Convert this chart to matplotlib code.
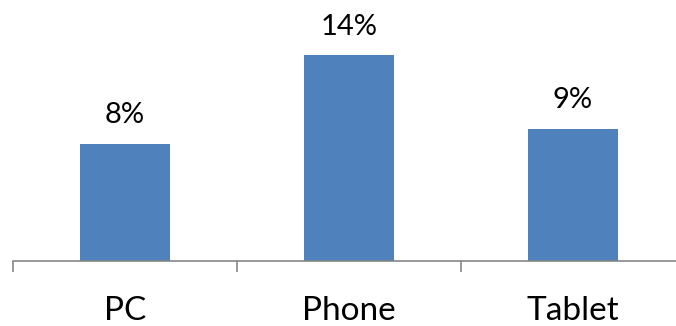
import matplotlib.pyplot as plt

devices = ["PC", "Phone", "Tablet"]
share = [0.08, 0.14, 0.09]
labels = ["8%", "14%", "9%"]

plt.rcParams['font.family'] = ['Lato', 'DejaVu Sans']

fig = plt.figure(figsize=(6.76, 3.26), dpi=100)
ax = fig.add_axes([13 / 676, 65 / 326, 672 / 676, 235 / 326])

x = range(len(devices))
bars = ax.bar(x, share, width=0.4, color="#4F81BD")

# value labels above each bar
for b, lab in zip(bars, labels):
    ax.annotate(lab, (b.get_x() + b.get_width() / 2, b.get_height()),
                xytext=(0, 15), textcoords="offset points",
                ha="center", va="baseline", fontsize=21, color="#000000")

# category names under the axis
for i, name in zip(x, devices):
    ax.annotate(name, (i, 0), xycoords=("data", "axes fraction"),
                xytext=(0, -42.5), textcoords="offset points",
                ha="center", va="baseline", fontsize=24, color="#000000")

ax.set_xlim(-0.5, 2.5)
ax.set_ylim(0, 0.16)

for s in ["top", "right", "left"]:
    ax.spines[s].set_visible(False)
ax.spines["bottom"].set_color("#868686")
ax.spines["bottom"].set_linewidth(1.2)

ax.set_yticks([])
ax.set_xticks([-0.5, 0.5, 1.5, 2.5])
ax.set_xticklabels([])
ax.tick_params(axis="x", length=8, width=1.2, color="#868686")

fig.savefig("out.png", dpi=100)
